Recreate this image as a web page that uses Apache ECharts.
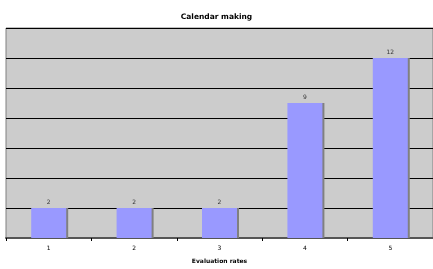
<!DOCTYPE html>
<html><head><meta charset="utf-8">
<script src="https://cdn.jsdelivr.net/npm/echarts@6/dist/echarts.min.js"></script>
<style>html,body{margin:0;padding:0;background:#fff}#c{width:433px;height:269px}</style>
</head><body><div id="c"></div>
<script>
const categories = ['1','2','3','4','5'];
const values = [2, 2, 2, 9, 12];
const titleText = 'Calendar making';
const xName = 'Evaluation rates';

const chart = echarts.init(document.getElementById('c'), null, {renderer:'canvas'});
chart.setOption({
  animation: false,
  title: {
    text: titleText, left: 'center', top: 8,
    textStyle: {fontFamily: 'DejaVu Sans', fontSize: 7.5, fontWeight: 'bold', color: '#000'}
  },
  grid: {
    left: 6, right: -3, top: 28, bottom: 27, show: true,
    backgroundColor: '#cccccc', borderColor: '#808080', borderWidth: 1
  },
  xAxis: {
    type: 'category', data: categories,
    name: xName, nameLocation: 'middle', nameGap: 20,
    nameTextStyle: {fontFamily: 'DejaVu Sans', fontSize: 6, fontWeight: 'bold', color: '#000'},
    axisLine: {lineStyle: {color: '#555', width: 2}},
    axisTick: {show: true, length: 3, lineStyle: {color: '#000'}},
    axisLabel: {fontFamily: 'DejaVu Sans', fontSize: 6, color: '#000', margin: 7},
    splitLine: {show: false}
  },
  yAxis: {
    type: 'value', min: 0, max: 14, interval: 2,
    axisLine: {show: false}, axisTick: {show: false}, axisLabel: {show: false},
    splitLine: {show: true, lineStyle: {color: '#000', width: 1}}
  },
  series: [{
    type: 'bar', data: values, barWidth: 35,
    itemStyle: {color: '#9999ff', shadowColor: '#808080', shadowOffsetX: 2, shadowOffsetY: 0, shadowBlur: 0},
    label: {show: true, position: 'top', distance: 3, fontFamily: 'DejaVu Sans', fontSize: 6, color: '#333'}
  }]
});
</script></body></html>
